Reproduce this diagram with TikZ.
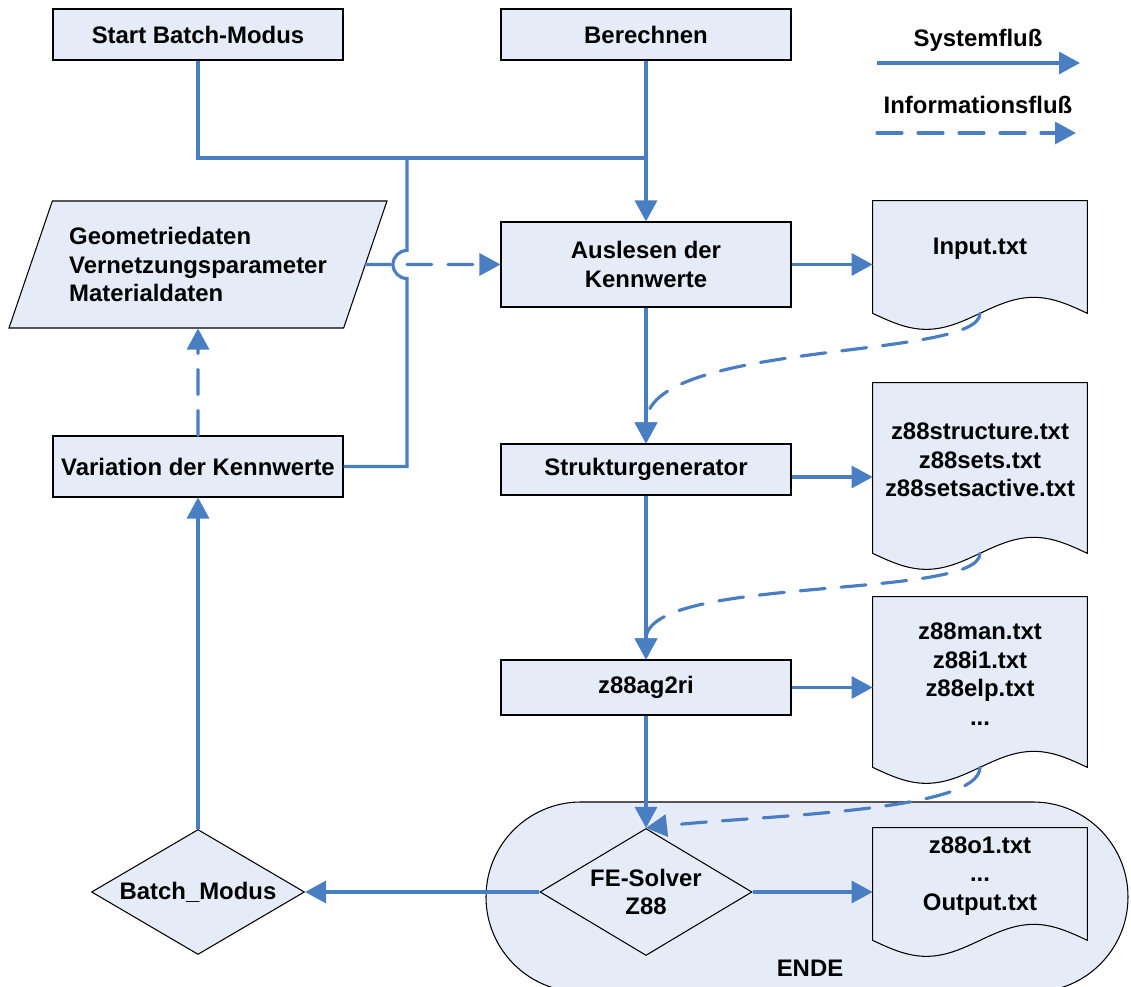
\documentclass[tikz,border=0pt]{standalone}
\usepackage{fontspec}
\setmainfont{Liberation Sans}
\usetikzlibrary{positioning, calc, arrows.meta, shapes.geometric, backgrounds}
\definecolor{Fluss}{HTML}{4A7EC2}
\definecolor{Flaeche}{HTML}{E6ECF7}
\newcommand{\schrift}{\bfseries\fontsize{13.6}{16.2}\selectfont}
% Dokument-Umriss mit Wellenkante unter einem Knoten
\newcommand{\dokument}[1]{%
  \filldraw[fill=Flaeche, draw=black, line width=0.6pt]
    (#1.north west) -- (#1.north east) -- ($(#1.south east)+(0,-0.32)$)
    sin ($(#1.south west)!0.75!(#1.south east)$)
    cos ($(#1.south)+(0,-0.32)$)
    sin ($(#1.south west)!0.25!(#1.south east)+(0,-0.64)$)
    cos ($(#1.south west)+(0,-0.32)$) -- cycle;}
\tikzset{
    kasten/.style={rectangle, draw=black, line width=0.6pt, fill=Flaeche, minimum width=5.8cm, align=center, font=\schrift},
    raute/.style={diamond, draw=black, line width=0.6pt, fill=Flaeche, aspect=1.7, inner sep=0pt, align=center, font=\schrift},
    datei/.style={rectangle, minimum width=4.28cm, align=center, font=\schrift},
    eingabe/.style={trapezium, trapezium left angle=63.3, trapezium right angle=116.7, trapezium stretches body,
        draw=black, line width=0.6pt, fill=Flaeche, minimum width=7.56cm, minimum height=2.54cm, align=left, font=\schrift},
    endform/.style={rectangle, rounded corners=1.9cm, draw=black, line width=0.6pt, fill=Flaeche, minimum width=12.84cm, minimum height=3.8cm},
    leitung/.style={line width=1.8pt, draw=Fluss},
    pfeil/.style={leitung, -{Triangle[length=0.42cm, width=0.44cm]}},
    info/.style={pfeil, dash pattern=on 0.5cm off 0.32cm, line cap=round},
}
\begin{document}
\begin{tikzpicture}
    \useasboundingbox (0,0) rectangle (22.62,19.74);

    % --- Legende ---
    \node[font=\schrift] (legsys) at (19.56,18.94) {Systemfluß};
    \coordinate (sysa) at (17.54,18.48);
    \coordinate (sysb) at (21.60,18.48);
    \node[font=\schrift] (leginfo) at (19.56,17.64) {Informationsfluß};
    \coordinate (infa) at (17.54,17.08);
    \coordinate (infb) at (21.52,17.08);

    % --- Start ---
    \node[kasten, minimum height=1.02cm] (start) at (3.96,19.05) {Start Batch-Modus};
    \node[kasten, minimum height=1.02cm] (berechnen) at (12.92,19.05) {Berechnen};
    \coordinate (ecke) at (8.14,16.58);
    \coordinate (knoten) at (12.92,16.58);

    % --- Kette in der Mitte ---
    \node[kasten, minimum height=1.7cm] (auslesen) at (12.92,14.45) {Auslesen der\\Kennwerte};
    \node[kasten, minimum height=1.02cm] (struktur) at (12.92,10.35) {Strukturgenerator};
    \node[kasten, minimum height=1.1cm] (ag2ri) at (12.92,5.99) {z88ag2ri};
    \node[raute, minimum width=4.24cm, minimum height=2.54cm] (solver) at (12.92,1.9) {FE-Solver\\Z88};

    % --- linke Seite ---
    \node[eingabe] (geo) at (3.96,14.45) {Geometriedaten\\Vernetzungsparameter\\Materialdaten};
    \node[kasten, minimum height=1.22cm] (variation) at (3.96,10.41) {Variation der Kennwerte};
    \node[raute, minimum width=4.26cm, minimum height=2.5cm] (batch) at (3.96,1.9) {Batch\_Modus};

    % --- Dateien ---
    \node[datei, minimum height=1.92cm] (inp) at (19.6,14.76) {Input.txt};
    \node[datei, minimum height=3.08cm] (z88s) at (19.6,10.54) {z88structure.txt\\z88sets.txt\\z88setsactive.txt};
    \node[datei, minimum height=3.08cm] (z88m) at (19.6,6.26) {z88man.txt\\z88i1.txt\\z88elp.txt\\...};
    \node[datei, minimum height=1.92cm] (z88o) at (19.6,2.22) {z88o1.txt\\...\\Output.txt};

    % --- Hintergrund: Ende-Feld und Dokumente ---
    \begin{scope}[on background layer]
        \node[endform] (ende) at (16.14,1.8) {};
        \dokument{inp}
        \dokument{z88s}
        \dokument{z88m}
        \dokument{z88o}
    \end{scope}
    \node[font=\schrift] (endetext) at (16.2,0.38) {ENDE};

    % --- Systemfluss ---
    \draw[pfeil] (sysa) -- (sysb);
    \draw[leitung] (start) -- (start |- ecke) -- (knoten);
    \draw[pfeil] (berechnen) -- (auslesen);
    \draw[leitung] (variation.east) -- (variation.east -| ecke)
        -- ($(ecke |- auslesen)+(0,-0.28)$) arc[start angle=-90, end angle=-270, radius=0.28cm] -- (ecke);
    \draw[pfeil] (auslesen) -- (struktur);
    \draw[pfeil] (struktur) -- (ag2ri);
    \draw[pfeil] (ag2ri) -- (solver);
    \draw[pfeil] (auslesen.east) -- (auslesen.east -| inp.west);
    \draw[pfeil] ([yshift=-0.15cm]struktur.east) -- ([yshift=-0.15cm]struktur.east -| z88s.west);
    \draw[pfeil] (ag2ri.east) -- (ag2ri.east -| z88m.west);
    \draw[pfeil] (solver.east) -- (solver.east -| z88o.west);
    \draw[pfeil] (solver) -- (batch);
    \draw[pfeil] (batch) -- (variation);

    % --- Informationsfluss ---
    \draw[info] (infa) -- (infb);
    \draw[info] (geo.east) -- (auslesen.west);
    \draw[info] (variation) -- (geo);
    \draw[info] ($(inp.south)+(0,-0.32)$) .. controls +(0,-0.94) and +(0,2.08) .. (struktur.north);
    \draw[info] ($(z88s.south)+(0,-0.32)$) .. controls +(0,-0.94) and +(0,1.7) .. (ag2ri.north);
    \draw[info] ($(z88m.south)+(0,-0.32)$) .. controls +(0,-0.9) and +(2.2,0.25) .. (solver.north);
\end{tikzpicture}
\end{document}
